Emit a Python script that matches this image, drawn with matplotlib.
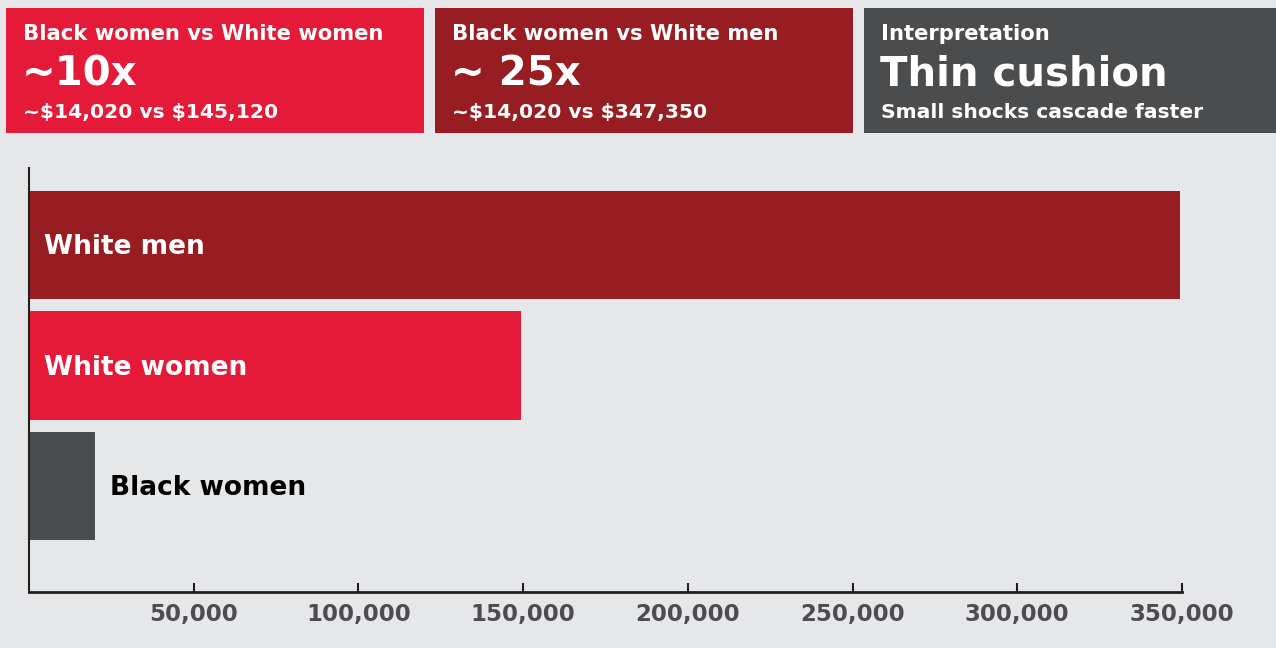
"""Wealth gap bar chart with three summary cards on top."""
import matplotlib
matplotlib.use("Agg")
import matplotlib.pyplot as plt
from matplotlib.patches import Rectangle

# data
groups = ["Black women", "White women", "White men"]
values = [20000, 149400, 349400]
ticks = [50000, 100000, 150000, 200000, 250000, 300000, 350000]

card_titles = ["Black women vs White women", "Black women vs White men", "Interpretation"]
card_big = ["~10x", "~ 25x", "Thin cushion"]
card_notes = ["~$14,020 vs $145,120", "~$14,020 vs $347,350", "Small shocks cascade faster"]

BG = "#e6e7e9"
RED = "#e41a38"
DARK_RED = "#971d22"
GRAY = "#4b4c4e"
bar_colors = [GRAY, RED, DARK_RED]
card_colors = [RED, DARK_RED, GRAY]

W, H = 1276, 648
plt.rcParams["font.family"] = ["DejaVu Sans"]
plt.rcParams["text.parse_math"] = False
fig = plt.figure(figsize=(W / 100, H / 100), dpi=100)
fig.patch.set_facecolor(BG)

# overlay in pixel coordinates for the cards
over = fig.add_axes([0, 0, 1, 1])
over.set_xlim(0, W)
over.set_ylim(H, 0)
over.axis("off")
over.patch.set_alpha(0)

card_x = [6, 435, 864]
for x0, col, t, big, note in zip(card_x, card_colors, card_titles, card_big, card_notes):
    over.add_patch(Rectangle((x0, 8), 418, 125, facecolor=col, edgecolor="none"))
    over.text(x0 + 17, 40, t, color="white", fontsize=15.2, fontweight="bold", va="baseline")
    over.text(x0 + 16, 86, big, color="white", fontsize=29, fontweight="bold", va="baseline")
    over.text(x0 + 17, 118, note, color="white", fontsize=14.6, fontweight="bold", va="baseline")

# bar chart
ax = fig.add_axes([29 / W, (H - 592) / H, (1182 - 29) / W, (592 - 168) / H])
ax.set_facecolor("none")
ypos = list(range(len(groups)))
ax.barh(ypos, values, height=0.9, color=bar_colors, edgecolor="none")
ax.set_xlim(0, 350000)
ax.set_ylim(-0.88, 2.64)

for y, g, v in zip(ypos, groups, values):
    if v > 60000:
        ax.text(4600, y - 0.02, g, color="white", fontsize=19, fontweight="bold", va="center", ha="left")
    else:
        ax.text(v + 4600, y - 0.02, g, color="black", fontsize=19, fontweight="bold", va="center", ha="left")

ax.set_xticks(ticks)
ax.set_xticklabels([f"{t:,}" for t in ticks])
ax.set_yticks([])
ax.tick_params(axis="x", direction="in", length=6.5, width=1.5, color="#231f20",
               labelsize=16.5, labelcolor="#4d4d4f", pad=8)
for lab in ax.get_xticklabels():
    lab.set_fontweight("bold")
for side in ["top", "right"]:
    ax.spines[side].set_visible(False)
ax.spines["left"].set_color("#231f20")
ax.spines["left"].set_linewidth(1.5)
ax.spines["bottom"].set_color("#231f20")
ax.spines["bottom"].set_linewidth(2)

fig.savefig("out.png", dpi=100, facecolor=BG)
